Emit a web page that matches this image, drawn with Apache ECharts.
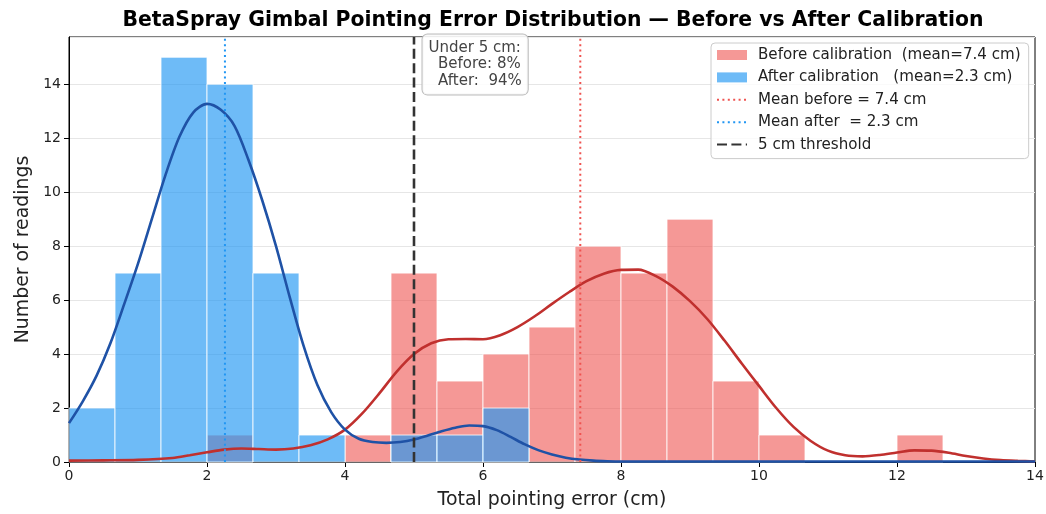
<!DOCTYPE html>
<html><head><meta charset="utf-8">
<script src="https://cdn.jsdelivr.net/npm/echarts@6/dist/echarts.min.js"></script>
<style>html,body{margin:0;padding:0;background:#fff}#c{width:1046px;height:514px}</style>
</head><body><div id="c"></div>
<script>
// ---- data ----
const xMin = 0, xMax = 14, binCount = 21;
const beforeCounts = [0,0,0,1,0,0,1,7,3,4,5,8,7,9,3,1,0,0,1,0,0];
const afterCounts  = [2,7,15,14,7,1,0,1,1,2,0,0,0,0,0,0,0,0,0,0,0];
const beforeKde = [[0,0.05],[0.5,0.06],[1,0.08],[1.5,0.15],[1.75,0.25],[2,0.36],[2.25,0.46],[2.5,0.5],[2.75,0.48],
  [3,0.46],[3.25,0.5],[3.5,0.62],[3.75,0.84],[4,1.2],[4.25,1.8],[4.5,2.55],[4.75,3.35],[5,4.0],[5.25,4.4],[5.5,4.55],
  [5.75,4.56],[6,4.55],[6.25,4.7],[6.5,5.0],[6.75,5.4],[7,5.86],[7.25,6.3],[7.5,6.7],[7.75,6.98],[8,7.12],[8.25,7.13],
  [8.5,6.9],[8.75,6.5],[9,5.96],[9.25,5.3],[9.5,4.5],[9.75,3.65],[10,2.82],[10.25,2.0],[10.5,1.3],[10.75,0.78],
  [11,0.42],[11.25,0.25],[11.5,0.21],[11.75,0.26],[12,0.35],[12.25,0.43],[12.5,0.42],[12.75,0.34],[13,0.22],
  [13.25,0.13],[13.5,0.07],[13.75,0.04],[14,0.02]];
const afterKde = [[0,1.44],[0.2,2.25],[0.4,3.2],[0.6,4.4],[0.8,5.85],[1,7.35],[1.2,9.0],[1.4,10.65],[1.6,12.05],
  [1.8,12.95],[2,13.27],[2.2,13.05],[2.4,12.45],[2.6,11.2],[2.8,9.7],[3,8.0],[3.2,6.1],[3.4,4.3],[3.6,2.85],
  [3.8,1.85],[4,1.2],[4.2,0.86],[4.4,0.74],[4.6,0.71],[4.8,0.74],[5,0.83],[5.2,0.98],[5.4,1.14],[5.6,1.27],
  [5.8,1.35],[6,1.33],[6.2,1.18],[6.4,0.93],[6.6,0.66],[6.8,0.44],[7,0.28],[7.2,0.16],[7.4,0.09],[7.6,0.05],
  [7.8,0.03],[8,0.02],[10,0.02],[12,0.02],[14,0.02]];
const meanBefore = 7.41, meanAfter = 2.26, threshold = 5;
const yMax = 15.75;
const names = ['Before calibration  (mean=7.4 cm)','After calibration   (mean=2.3 cm)',
  'Mean before = 7.4 cm','Mean after  = 2.3 cm','5 cm threshold'];
const annotationText = 'Under 5 cm:\n  Before: 8%\n  After:  94%';

// ---- build ----
const binW = (xMax - xMin) / binCount;
function bins(counts){ return counts.map((c,i)=>[xMin+i*binW, xMin+(i+1)*binW, c]); }
function histRender(fill){
  return function(params, api){
    const h = api.value(2);
    if (!h) return null;
    const p0 = api.coord([api.value(0), h]);
    const p1 = api.coord([api.value(1), 0]);
    return {type:'rect', shape:{x:p0[0], y:p0[1], width:p1[0]-p0[0], height:p1[1]-p0[1]},
      style:{fill:fill, stroke:'#ffffff', lineWidth:0.8}};
  };
}
const F = 'DejaVu Sans';
const redFill = 'rgba(239,83,80,0.6)', blueFill = 'rgba(33,150,243,0.65)';
const noSym = {color:'rgba(0,0,0,0)', borderWidth:0, opacity:0};
const chart = echarts.init(document.getElementById('c'), null, {renderer:'canvas'});
chart.setOption({
  animation:false,
  backgroundColor:'#fff',
  title:{text:'BetaSpray Gimbal Pointing Error Distribution — Before vs After Calibration',
    left:548, top:6, textAlign:'center',
    textStyle:{fontFamily:F, fontSize:20.4, fontWeight:'bold', color:'#000'}},
  grid:{left:69, right:11, top:37, bottom:52, show:true, borderColor:'#000', borderWidth:1,
    containLabel:false, outerBoundsMode:'none'},
  legend:{orient:'vertical', left:711, top:43, padding:[4,8,6,5], itemGap:6.4,
    itemWidth:30, itemHeight:10, backgroundColor:'rgba(255,255,255,0.8)', borderColor:'#ccc',
    borderWidth:1, borderRadius:4,
    textStyle:{fontFamily:F, fontSize:15.1, color:'#222', lineHeight:16, padding:[0,0,0,6]},
    data:[{name:names[0], icon:'rect'},{name:names[1], icon:'rect'},
      {name:names[2], itemStyle:noSym},{name:names[3], itemStyle:noSym},{name:names[4], itemStyle:noSym}]},
  xAxis:{type:'value', min:xMin, max:xMax, interval:2,
    name:'Total pointing error (cm)', nameLocation:'middle', nameGap:29,
    nameTextStyle:{fontFamily:F, fontSize:18.9, color:'#222'},
    axisLine:{show:true, onZero:false, lineStyle:{color:'#000', width:1}},
    axisTick:{show:true, length:5, lineStyle:{color:'#000'}},
    axisLabel:{fontFamily:F, fontSize:14, color:'#222', margin:7},
    splitLine:{show:false}},
  yAxis:{type:'value', min:0, max:yMax, interval:2,
    name:'Number of readings', nameLocation:'middle', nameGap:36,
    nameTextStyle:{fontFamily:F, fontSize:18.9, color:'#222'},
    axisLine:{show:true, lineStyle:{color:'#000', width:1}},
    axisTick:{show:true, length:5, lineStyle:{color:'#000'}},
    axisLabel:{fontFamily:F, fontSize:14, color:'#222', margin:8, showMaxLabel:false},
    splitLine:{show:true, lineStyle:{color:'#e6e6e6', width:1}}},
  graphic:[{type:'text', x:422.5, y:34.5, z:100,
    style:{text:annotationText, font:'15px "DejaVu Sans"', fill:'#444', lineHeight:16.7,
      backgroundColor:'rgba(255,255,255,0.85)', borderColor:'#bbb', borderWidth:1, borderRadius:5,
      padding:[5,6,5,6]}}],
  series:[
    {name:names[0], type:'custom', renderItem:histRender(redFill), data:bins(beforeCounts),
      encode:{x:[0,1], y:2}, itemStyle:{color:redFill}, z:1},
    {name:names[1], type:'custom', renderItem:histRender(blueFill), data:bins(afterCounts),
      encode:{x:[0,1], y:2}, itemStyle:{color:blueFill}, z:2},
    {name:'kde before', type:'line', data:beforeKde, smooth:0.3, symbol:'none', z:3,
      lineStyle:{color:'#c0302e', width:2.6}},
    {name:'kde after', type:'line', data:afterKde, smooth:0.3, symbol:'none', z:4,
      lineStyle:{color:'#1f52a6', width:2.6}},
    {name:names[2], type:'line', data:[[meanBefore,0],[meanBefore,yMax]], symbol:'none', z:5,
      itemStyle:{color:'#ef5350'}, lineStyle:{color:'#ef5350', width:2, type:[2,3.4]}},
    {name:names[3], type:'line', data:[[meanAfter,0],[meanAfter,yMax]], symbol:'none', z:5,
      itemStyle:{color:'#2196f3'}, lineStyle:{color:'#2196f3', width:2, type:[2,3.4]}},
    {name:names[4], type:'line', data:[[threshold,0],[threshold,yMax]], symbol:'none', z:6,
      itemStyle:{color:'#333'}, lineStyle:{color:'#333', width:2.6, type:[10,4.4]}}
  ]
});
</script></body></html>
